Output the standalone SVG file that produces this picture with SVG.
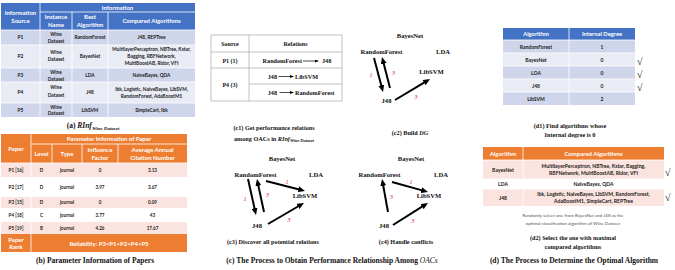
<svg xmlns="http://www.w3.org/2000/svg" width="675" height="270" viewBox="0 0 675 270">
<style>
.t{font-family:Lato,"Liberation Sans",sans-serif;font-weight:bold;fill:#1a1a1a;text-anchor:middle}
.h{font-family:Lato,"Liberation Sans",sans-serif;font-weight:bold;fill:#fff;text-anchor:middle}
.s{font-family:"Liberation Serif","Times New Roman",serif;font-weight:bold;fill:#111;text-anchor:middle}
.r{font-family:"Liberation Serif","Times New Roman",serif;font-style:italic;fill:#e01010;text-anchor:middle;font-size:6px}
.n{font-family:"Liberation Serif","Times New Roman",serif;font-weight:bold;fill:#111;text-anchor:middle;font-size:6.6px}
.ck{font-family:"Liberation Serif","Times New Roman",serif;fill:#222;font-size:10px}
.w{stroke:#fff;stroke-width:0.8}
.ed{stroke:#000;stroke-width:2;marker-end:url(#ah)}
.thin{stroke:#000;stroke-width:0.7;marker-end:url(#ahs)}
</style>
<defs>
<marker id="ah" markerUnits="userSpaceOnUse" markerWidth="7" markerHeight="6" refX="1" refY="3" orient="auto"><path d="M0,0 L7,3 L0,6 z" fill="#000"/></marker>
<marker id="ahs" markerUnits="userSpaceOnUse" markerWidth="4" markerHeight="3" refX="0.5" refY="1.5" orient="auto"><path d="M0,0 L4,1.5 L0,3 z" fill="#000"/></marker>
</defs>
<rect width="675" height="270" fill="#fff"/>

<!-- (a) -->
<g id="table-a">
<rect x="1" y="3" width="194" height="27" fill="#4472C4"/>
<rect x="1" y="30" width="194" height="15" fill="#CFD5EA"/>
<rect x="1" y="45" width="194" height="23" fill="#E9EBF5"/>
<rect x="1" y="68" width="194" height="14" fill="#CFD5EA"/>
<rect x="1" y="82" width="194" height="21" fill="#E9EBF5"/>
<rect x="1" y="103" width="194" height="14" fill="#CFD5EA"/>
<g class="w">
<line x1="40" y1="3" x2="40" y2="117"/><line x1="72" y1="12" x2="72" y2="117"/><line x1="108" y1="12" x2="108" y2="117"/>
<line x1="40" y1="12" x2="195" y2="12"/>
<line x1="1" y1="30" x2="195" y2="30"/><line x1="1" y1="45" x2="195" y2="45"/><line x1="1" y1="68" x2="195" y2="68"/><line x1="1" y1="82" x2="195" y2="82"/><line x1="1" y1="103" x2="195" y2="103"/>
</g>
<g class="h" font-size="6">
<text x="117.5" y="9.8">Information</text>
<text x="20.5" y="15">Information</text><text x="20.5" y="22.5">Source</text>
<text x="56" y="19">Instance</text><text x="56" y="26.5">Name</text>
<text x="90" y="19">Best</text><text x="90" y="26.5">Algorithm</text>
<text x="151.5" y="23">Compared Algorithms</text>
</g>
<g class="t" font-size="4.8">
<text x="20.5" y="39">P1</text><text x="56" y="36">Wine</text><text x="56" y="42.5">Dataset</text><text x="90" y="39">RandomForest</text><text x="151.5" y="39">J48, REPTree</text>
<text x="20.5" y="58">P2</text><text x="56" y="54">Wine</text><text x="56" y="61">Dataset</text><text x="90" y="58">BayesNet</text>
<text x="151.5" y="50.5">MultilayerPerceptron, NBTree, Kstar,</text><text x="151.5" y="57.5">Bagging, RBFNetwork,</text><text x="151.5" y="64.5">MultiBoostAB, Ridor, VFI</text>
<text x="20.5" y="76.5">P3</text><text x="56" y="74">Wine</text><text x="56" y="80.5">Dataset</text><text x="90" y="76.5">LDA</text><text x="151.5" y="76.5">NaiveBayes, QDA</text>
<text x="20.5" y="94">P4</text><text x="56" y="89">Wine</text><text x="56" y="96.5">Dataset</text><text x="90" y="94">J48</text>
<text x="151.5" y="90.5">Ibk, Logistic, NaiveBayes, LibSVM,</text><text x="151.5" y="97.5">RandomForest, AdaBoostM1</text>
<text x="20.5" y="111.5">P5</text><text x="56" y="108.5">Wine</text><text x="56" y="115">Dataset</text><text x="90" y="111.5">LibSVM</text><text x="151.5" y="111.5">SimpleCart, Ibk</text>
</g>
<text class="s" x="93" y="128" font-size="7.5">(a) <tspan font-style="italic">RInf</tspan><tspan font-size="5" dy="1.5" font-style="italic">Wine Dataset</tspan></text>
</g>

<!-- (b) -->
<g id="table-b">
<rect x="1" y="134" width="186" height="29" fill="#ED7D31"/>
<rect x="1" y="163" width="186" height="14" fill="#FBE4DF"/>
<rect x="1" y="177" width="186" height="20" fill="#fff"/>
<rect x="1" y="197" width="186" height="11" fill="#FBE4DF"/>
<rect x="1" y="208" width="186" height="14" fill="#fff"/>
<rect x="1" y="222" width="186" height="12" fill="#FBE4DF"/>
<rect x="1" y="234" width="186" height="18" fill="#ED7D31"/>
<g class="w">
<line x1="31" y1="134" x2="31" y2="252"/><line x1="52" y1="144" x2="52" y2="163"/><line x1="82" y1="144" x2="82" y2="163"/><line x1="118" y1="144" x2="118" y2="163"/>
<line x1="31" y1="144" x2="187" y2="144"/><line x1="1" y1="163" x2="187" y2="163"/>
</g>
<g class="h" font-size="6">
<text x="109" y="141">Parameter Information of Paper</text>
<text x="16" y="151">Paper</text>
<text x="41.5" y="156">Level</text><text x="67" y="156">Type</text>
<text x="100" y="152">Influence</text><text x="100" y="159.5">Factor</text>
<text x="152.5" y="152">Average Annual</text><text x="152.5" y="159.5">Citation Number</text>
<text x="16" y="241.5">Paper</text><text x="16" y="249">Rank</text>
<text x="109" y="245.5">Reliability: P3&lt;P1&lt;P2&lt;P4&lt;P5</text>
</g>
<g class="t" font-size="4.6">
<text x="16" y="171.5">P1 [16]</text><text x="41.5" y="171.5">D</text><text x="67" y="171.5">journal</text><text x="100" y="171.5">0</text><text x="152.5" y="171.5">3.13</text>
<text x="16" y="188.5">P2 [17]</text><text x="41.5" y="188.5">D</text><text x="67" y="188.5">journal</text><text x="100" y="188.5">3.97</text><text x="152.5" y="188.5">3.67</text>
<text x="16" y="204">P3 [15]</text><text x="41.5" y="204">D</text><text x="67" y="204">journal</text><text x="100" y="204">0</text><text x="152.5" y="204">0.09</text>
<text x="16" y="216.5">P4 [18]</text><text x="41.5" y="216.5">C</text><text x="67" y="216.5">journal</text><text x="100" y="216.5">3.77</text><text x="152.5" y="216.5">43</text>
<text x="16" y="229.5">P5 [19]</text><text x="41.5" y="229.5">B</text><text x="67" y="229.5">journal</text><text x="100" y="229.5">4.26</text><text x="152.5" y="229.5">17.67</text>
</g>
<text class="s" x="95" y="263" font-size="7.5">(b) Parameter Information of Papers</text>
</g>

<!-- (c1) -->
<g id="table-c1">
<rect x="211" y="35" width="131" height="66" fill="#fff" stroke="#999" stroke-width="0.6"/>
<g stroke="#999" stroke-width="0.6">
<line x1="249" y1="35" x2="249" y2="101"/><line x1="211" y1="52" x2="342" y2="52"/><line x1="211" y1="68" x2="342" y2="68"/><line x1="249" y1="84" x2="342" y2="84"/>
</g>
<g class="s" font-size="6">
<text x="230" y="46">Source</text><text x="295.5" y="46">Relations</text>
<text x="230" y="63">P1 (1)</text><text x="230" y="87">P4 (3)</text>
</g>
<g class="s" font-size="6.2">
<text x="302" y="63" text-anchor="end">RandomForest</text><text x="322" y="63" text-anchor="start">J48</text>
<text x="277" y="78.5" text-anchor="end">J48</text><text x="295" y="78.5" text-anchor="start">LibSVM</text>
<text x="277" y="94.5" text-anchor="end">J48</text><text x="295" y="94.5" text-anchor="start">RandomForest</text>
</g>
<g id="c1-arrows">
<line class="thin" x1="303" y1="61" x2="315.5" y2="61"/>
<line class="thin" x1="278.5" y1="76.5" x2="290.5" y2="76.5"/>
<line class="thin" x1="279.5" y1="92.5" x2="290.5" y2="92.5" stroke="#555"/>
</g>
<text class="s" x="274" y="130" font-size="6.2">(c1) Get performance relations</text>
<text class="s" x="274" y="140.5" font-size="6.2">among OACs in <tspan font-style="italic">RInf</tspan><tspan font-size="4.4" dy="1.2" font-style="italic">Wine Dataset</tspan></text>
</g>

<!-- (c2) -->
<g id="c2-nodes" class="n">
<g id="c2-BayesNet"><text x="410" y="37.5">BayesNet</text></g>
<g id="c2-RandomForest"><text x="381.5" y="54">RandomForest</text></g>
<g id="c2-LDA"><text x="443" y="54">LDA</text></g>
<g id="c2-LibSVM"><text x="431.5" y="74">LibSVM</text></g>
<g id="c2-J48"><text x="386.5" y="103">J48</text></g>
</g>
<g id="c2-edges">
<line class="ed" x1="374" y1="58" x2="381.5" y2="86.2"/>
<line class="ed" x1="390" y1="88" x2="383.5" y2="62.8"/>
<line class="ed" x1="395" y1="100" x2="424.9" y2="82.1"/>
<text class="r" x="371" y="77">1</text><text class="r" x="393.5" y="75">3</text><text class="r" x="416" y="99">3</text>
</g>
<text class="s" x="410" y="135" font-size="6.2">(c2) Build <tspan font-style="italic">DG</tspan></text>

<!-- (c3) -->
<g id="c3-nodes" class="n">
<g id="c3-BayesNet"><text x="282" y="161">BayesNet</text></g>
<g id="c3-RandomForest"><text x="255.5" y="177">RandomForest</text></g>
<g id="c3-LDA"><text x="316" y="177">LDA</text></g>
<g id="c3-LibSVM"><text x="305" y="198">LibSVM</text></g>
<g id="c3-J48"><text x="257" y="228">J48</text></g>
</g>
<g id="c3-edges">
<line class="ed" x1="266" y1="181" x2="299.2" y2="189.5"/>
<line class="ed" x1="248" y1="179" x2="254.7" y2="209.1"/>
<line class="ed" x1="264" y1="212" x2="258.2" y2="184.9"/>
<line class="ed" x1="268" y1="224" x2="298.8" y2="206"/>
<text class="r" x="287" y="183.5">1</text><text class="r" x="245" y="201">1</text><text class="r" x="267.5" y="197">3</text><text class="r" x="289" y="222">3</text>
</g>
<text class="s" x="273" y="244" font-size="6.2">(c3) Discover all potential relations</text>

<!-- (c4) -->
<g id="c4-nodes" class="n">
<g id="c4-BayesNet"><text x="411" y="161">BayesNet</text></g>
<g id="c4-RandomForest"><text x="379.5" y="177">RandomForest</text></g>
<g id="c4-LDA"><text x="441" y="177">LDA</text></g>
<g id="c4-LibSVM"><text x="429" y="198">LibSVM</text></g>
<g id="c4-J48"><text x="384" y="228">J48</text></g>
</g>
<g id="c4-edges">
<line class="ed" x1="392" y1="182" x2="422.2" y2="190.4"/>
<line class="ed" x1="388" y1="212" x2="383.1" y2="184.9"/>
<line class="ed" x1="393" y1="225" x2="422.9" y2="206.2"/>
<text class="r" x="411" y="184">1</text><text class="r" x="391.5" y="199">3</text><text class="r" x="413" y="223">3</text>
</g>
<text class="s" x="406" y="244" font-size="6.2">(c4) Handle conflicts</text>
<text class="s" x="332" y="263" font-size="7.5">(c) The Process to Obtain Performance Relationship Among <tspan font-style="italic" font-weight="normal">OACs</tspan></text>

<!-- (d1) -->
<g id="table-d1">
<rect x="503" y="28" width="132" height="12" fill="#4472C4"/>
<rect x="503" y="40" width="132" height="13" fill="#CFD5EA"/>
<rect x="503" y="53" width="132" height="13" fill="#E9EBF5"/>
<rect x="503" y="66" width="132" height="13" fill="#CFD5EA"/>
<rect x="503" y="79" width="132" height="13" fill="#E9EBF5"/>
<rect x="503" y="92" width="132" height="13" fill="#CFD5EA"/>
<g class="w">
<line x1="569" y1="28" x2="569" y2="105"/>
<line x1="503" y1="40" x2="635" y2="40"/><line x1="503" y1="53" x2="635" y2="53"/><line x1="503" y1="66" x2="635" y2="66"/><line x1="503" y1="79" x2="635" y2="79"/><line x1="503" y1="92" x2="635" y2="92"/>
</g>
<g class="h" font-size="5.8"><text x="536" y="36.3">Algorithm</text><text x="602" y="36.3">Internal Degree</text></g>
<g class="t" font-size="5">
<text x="536" y="48.5">RandomForest</text><text x="602" y="48.5">1</text>
<text x="536" y="61.5">BayesNet</text><text x="602" y="61.5">0</text>
<text x="536" y="74.5">LDA</text><text x="602" y="74.5">0</text>
<text x="536" y="87.5">J48</text><text x="602" y="87.5">0</text>
<text x="536" y="100.5">LibSVM</text><text x="602" y="100.5">2</text>
</g>
<text class="ck" x="637" y="65">√</text><text class="ck" x="637" y="78">√</text><text class="ck" x="637" y="90.5">√</text>
<text class="s" x="570" y="128" font-size="6.2">(d1) Find algorithms whose</text>
<text class="s" x="570" y="136.5" font-size="6.2">Internal degree is 0</text>
</g>

<!-- (d2) -->
<g id="table-d2">
<rect x="483" y="147" width="181" height="13" fill="#ED7D31"/>
<rect x="483" y="160" width="181" height="19" fill="#FBE4DF"/>
<rect x="483" y="179" width="181" height="10" fill="#fff"/>
<rect x="483" y="189" width="181" height="17" fill="#FBE4DF"/>
<g class="w"><line x1="523" y1="147" x2="523" y2="206"/><line x1="483" y1="160" x2="664" y2="160"/><line x1="483" y1="189" x2="664" y2="189"/><line x1="483" y1="179" x2="664" y2="179"/></g>
<g class="h" font-size="6"><text x="503" y="155.6">Algorithm</text><text x="593.5" y="155.6">Compared Algorithms</text></g>
<g class="t" font-size="5.1">
<text x="503" y="171.5">BayesNet</text>
<text x="593.5" y="167.6">MultilayerPerceptron, NBTree, Kstar, Bagging,</text>
<text x="593.5" y="175.4">RBFNetwork, MultiBoostAB, Ridor, VFI</text>
<text x="503" y="185.8">LDA</text><text x="593.5" y="185.8">NaiveBayes, QDA</text>
<text x="503" y="199.5">J48</text>
<text x="593.5" y="195.6">Ibk, Logistic, NaiveBayes, LibSVM, RandomForest,</text>
<text x="593.5" y="203.4">AdaBoostM1, SimpleCart, REPTree</text>
</g>
<text class="ck" x="665" y="175.5">√</text><text class="ck" x="665" y="200.5">√</text>
<g font-family="Lato,'Liberation Sans',sans-serif" font-size="4.5" fill="#555" text-anchor="middle">
<text x="573" y="217">Randomly select one from BayesNet and J48 as the</text>
<text x="573" y="225">optimal classification algorithm of Wine Dataset</text>
</g>
<text class="s" x="573" y="239.5" font-size="6.2">(d2) Select the one with maximal</text>
<text class="s" x="573" y="248.5" font-size="6.2">compared algorithms</text>
<text class="s" x="574" y="263" font-size="7.5">(d) The Process to Determine the Optimal Algorithm</text>
</g>
</svg>
